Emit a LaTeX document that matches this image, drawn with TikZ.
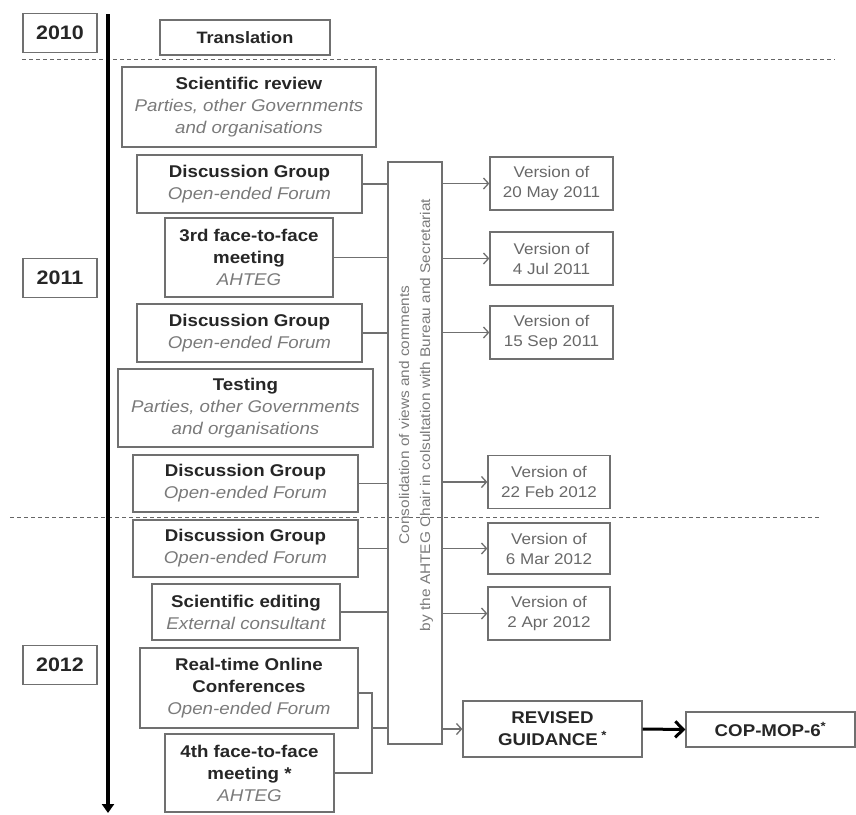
\documentclass[tikz,border=0pt]{standalone}
\usepackage{fontspec}
\setmainfont[FakeStretch=1.1]{Liberation Sans}
\usetikzlibrary{arrows.meta}
\definecolor{boxgray}{HTML}{707070}
\definecolor{subgray}{HTML}{7A7A7A}
\definecolor{inkgray}{HTML}{262626}
\newcommand{\subl}[1]{{\mdseries\itshape\color{subgray}#1}}
\begin{document}
\begin{tikzpicture}[x=1pt,y=-1pt,
	yearbox/.style={draw=boxgray,line width=1.3pt,font=\fontsize{19.5}{22}\selectfont\bfseries,text=inkgray,minimum width=74pt,minimum height=39pt},
	stage/.style={draw=boxgray,line width=1.3pt,align=center,font=\fontsize{17}{22}\selectfont\bfseries,text=inkgray,inner sep=2pt},
	verbox/.style={draw=boxgray,line width=1.3pt,align=center,font=\fontsize{15.5}{20}\selectfont,text=subgray!85!black,minimum width=123pt,minimum height=53pt},
	link/.style={draw=boxgray,line width=1.3pt},
	flow/.style={link,-{Straight Barb[length=5pt,width=11pt]}},
	sep/.style={draw=black!60,line width=1pt,dash pattern=on 4pt off 3pt}]
	\useasboundingbox (0,0) rectangle (856,814);
	\coordinate (d1a) at (22,59);  \coordinate (d1b) at (835,59);
	\coordinate (d2a) at (10,517); \coordinate (d2b) at (820,517);
	\draw[sep] (d1a)--(d1b);
	\draw[sep] (d2a)--(d2b);
	\coordinate (tltop) at (108,14);
	\coordinate (tlbot) at (108,813);
	\draw[line width=3.5pt,-{Triangle[length=9pt,width=12pt]}] (tltop)--(tlbot);
	\node[yearbox] (y2010) at (60,33) {2010};
	\node[yearbox] (y2011) at (60,278) {2011};
	\node[yearbox] (y2012) at (60,665) {2012};
	\node[stage,font=\fontsize{16.5}{22}\selectfont\bfseries,minimum width=170pt,minimum height=35pt] (transl) at (245,37.5) {Translation};
	\node[stage,minimum width=254pt,minimum height=80pt] (review) at (249,107) {Scientific review\\\subl{Parties, other Governments}\\\subl{and organisations}};
	\node[stage,minimum width=225pt,minimum height=58pt] (dg1) at (249.5,184) {Discussion Group\\\subl{Open-ended Forum}};
	\node[stage,minimum width=168pt,minimum height=79pt] (meet3) at (249,257.5) {3rd face-to-face\\meeting\\\subl{AHTEG}};
	\node[stage,minimum width=225pt,minimum height=58pt] (dg2) at (249.5,333) {Discussion Group\\\subl{Open-ended Forum}};
	\node[stage,minimum width=255pt,minimum height=78pt] (testing) at (245.5,408) {Testing\\\subl{Parties, other Governments}\\\subl{and organisations}};
	\node[stage,minimum width=225pt,minimum height=57pt] (dg3) at (245.5,483.5) {Discussion Group\\\subl{Open-ended Forum}};
	\node[stage,minimum width=225pt,minimum height=57pt] (dg4) at (245.5,548.5) {Discussion Group\\\subl{Open-ended Forum}};
	\node[stage,minimum width=188pt,minimum height=56pt] (edit) at (246,612) {Scientific editing\\\subl{External consultant}};
	\node[stage,minimum width=218pt,minimum height=80pt] (online) at (249,688) {Real-time Online\\Conferences\\\subl{Open-ended Forum}};
	\node[stage,minimum width=169pt,minimum height=78pt] (meet4) at (249.5,773) {4th face-to-face\\meeting *\\\subl{AHTEG}};
	\node[draw=boxgray,line width=1.3pt,minimum width=54pt,minimum height=582pt,inner sep=0pt] (consol) at (415,453) {};
	\node[rotate=90,align=center,font=\fontsize{14}{21}\selectfont,text=subgray] (consoltxt) at (416,415) {Consolidation of views and comments\\by the AHTEG Chair in colsultation with Bureau and Secretariat};
	\node[verbox] (v1) at (551.5,183.5) {Version of\\20 May 2011};
	\node[verbox] (v2) at (551.5,258.5) {Version of\\4 Jul 2011};
	\node[verbox] (v3) at (551.5,332.5) {Version of\\15 Sep 2011};
	\node[verbox,minimum width=122pt] (v4) at (549,482) {Version of\\22 Feb 2012};
	\node[verbox,minimum width=122pt,minimum height=51pt] (v5) at (549,548.5) {Version of\\6 Mar 2012};
	\node[verbox,minimum width=122pt] (v6) at (549,613.5) {Version of\\2 Apr 2012};
	\node[stage,minimum width=179pt,minimum height=56pt] (revised) at (552.5,729) {REVISED\\GUIDANCE\textsuperscript{ *}};
	\node[stage,minimum width=169pt,minimum height=35pt] (cop) at (770.5,729.5) {COP-MOP-6\textsuperscript{*}};
	\foreach \s in {dg1,meet3,dg2,dg3,dg4,edit}
		\draw[link] (\s.east)--(\s.east-|consol.west);
	\coordinate (bk) at (372,728);
	\draw[link] ([yshift=-5pt]online.east)-|(bk)|-(meet4.east);
	\draw[link] (bk)--(bk-|consol.west);
	\foreach \v in {v1,v2,v3,v4,v5,v6}
		\draw[flow] (\v.west-|consol.east)--(\v.west);
	\draw[flow] (revised.west-|consol.east)--(revised.west);
	\draw[line width=3pt,-{Straight Barb[length=8pt,width=16pt]}] (revised.east)--(cop.west);
\end{tikzpicture}
\end{document}
